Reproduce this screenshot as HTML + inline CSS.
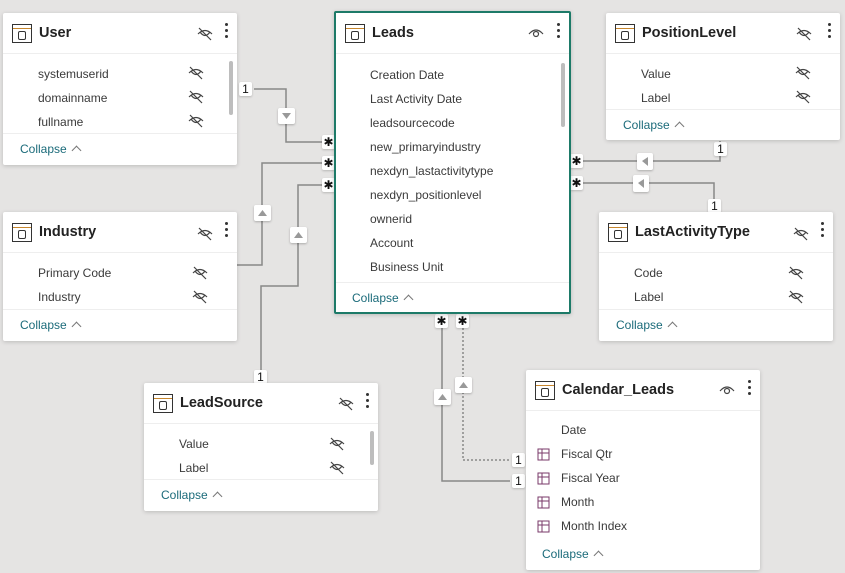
<!DOCTYPE html>
<html><head><meta charset="utf-8"><style>
body{margin:0;width:845px;height:573px;background:#e5e4e3;position:relative;overflow:hidden;font-family:"Segoe UI","Liberation Sans",sans-serif}
.c{position:absolute;background:#fff;box-shadow:0 1px 4px rgba(0,0,0,.18);border-radius:2px;box-sizing:border-box}
.c.sel{border:2px solid #1d7a68}
.h{position:absolute;left:0;right:0;top:0;height:40px;border-bottom:1px solid #eee}
.t{position:absolute;left:36px;top:12px;font-size:14.5px;font-weight:bold;color:#222}
.ti{position:absolute;left:9px;top:11px;width:20px;height:19px;border:1.5px solid #333;box-sizing:border-box}
.ti:before{content:"";position:absolute;left:0;right:0;top:3px;border-top:1.5px solid #c7862c}
.ti:after{content:"";position:absolute;left:5px;top:6px;width:6px;height:7px;border:1.3px solid #333;border-radius:2px}
.dots{position:absolute;right:8px;top:10px;width:4px}
.dots i{display:block;width:3px;height:3px;background:#333;border-radius:50%;margin:0 0 3px}
.f{position:absolute;font-size:12px;color:#3a3a3a}
.col{position:absolute;font-size:12px;color:#1b6b7a}
.col span{display:inline-block;width:6px;height:6px;border-left:1px solid #777;border-top:1px solid #777;transform:rotate(45deg);margin-left:6px;position:relative;top:1px}
.div{position:absolute;left:0;right:0;border-top:1px solid #eee}
.sb{position:absolute;width:4px;background:#bdbdbd;border-radius:2px}
.b{position:absolute;background:#fff;font-size:12px;color:#111;text-align:center;line-height:14px;width:13px;height:14px;border-radius:2px;box-shadow:0 1px 2px rgba(0,0,0,.2)}
</style></head><body>
<svg width="845" height="573" style="position:absolute;left:0;top:0">
<g stroke="#888" stroke-width="1.5" fill="none">
<polyline points="254,89 286,89 286,142 322,142"/>
<polyline points="237,265 262,265 262,163 322,163"/>
<polyline points="261,378 261,286 298,286 298,185 322,185"/>
<polyline points="720,141 720,161 583,161"/>
<polyline points="714,212 714,183 583,183"/>
<polyline points="442,328 442,481 510,481"/>
<polyline points="463,328 463,460 510,460" stroke-dasharray="2,2"/>
</g>
<g fill="#fff" style="filter:drop-shadow(0 1px 1px rgba(0,0,0,.25))">
<rect x="278" y="108" width="17" height="16" rx="2"/>
<rect x="254" y="205" width="17" height="16" rx="2"/>
<rect x="290" y="227" width="17" height="16" rx="2"/>
<rect x="637" y="153" width="16" height="17" rx="2"/>
<rect x="633" y="175" width="16" height="17" rx="2"/>
<rect x="434" y="389" width="17" height="16" rx="2"/>
<rect x="455" y="377" width="17" height="16" rx="2"/>
</g>
<g fill="#999">
<polygon points="282,113 291,113 286.5,119"/>
<polygon points="258,216 267,216 262.5,210"/>
<polygon points="294,238 303,238 298.5,232"/>
<polygon points="642,161 648,157 648,166"/>
<polygon points="638,183 644,179 644,188"/>
<polygon points="438,400 447,400 442.5,394"/>
<polygon points="459,388 468,388 463.5,382"/>
</g>
</svg>
<div class="b" style="left:239px;top:82px">1</div>
<div class="b" style="left:322px;top:135px">✱</div>
<div class="b" style="left:322px;top:156px">✱</div>
<div class="b" style="left:322px;top:178px">✱</div>
<div class="b" style="left:570px;top:154px">✱</div>
<div class="b" style="left:570px;top:176px">✱</div>
<div class="b" style="left:714px;top:142px">1</div>
<div class="b" style="left:708px;top:199px">1</div>
<div class="b" style="left:254px;top:370px">1</div>
<div class="b" style="left:435px;top:314px">✱</div>
<div class="b" style="left:456px;top:314px">✱</div>
<div class="b" style="left:512px;top:453px">1</div>
<div class="b" style="left:512px;top:474px">1</div>

<div class="c" style="left:3px;top:13px;width:234px;height:152px">
<div class="h"><div class="ti"></div><div class="t">User</div><div class="dots"><i></i><i></i><i></i></div></div>
<div class="f" style="left:35px;top:54px">systemuserid</div>
<div class="f" style="left:35px;top:78px">domainname</div>
<div class="f" style="left:35px;top:102px">fullname</div>
<div class="sb" style="left:226px;top:48px;height:54px"></div>
<div class="div" style="top:120px"></div>
<div class="col" style="left:17px;top:129px">Collapse<span></span></div>
</div>
<div class="c sel" style="left:334px;top:11px;width:237px;height:303px">
<div class="h"><div class="ti"></div><div class="t">Leads</div><div class="dots"><i></i><i></i><i></i></div></div>
<div class="f" style="left:34px;top:55px">Creation Date</div>
<div class="f" style="left:34px;top:79px">Last Activity Date</div>
<div class="f" style="left:34px;top:103px">leadsourcecode</div>
<div class="f" style="left:34px;top:127px">new_primaryindustry</div>
<div class="f" style="left:34px;top:151px">nexdyn_lastactivitytype</div>
<div class="f" style="left:34px;top:175px">nexdyn_positionlevel</div>
<div class="f" style="left:34px;top:199px">ownerid</div>
<div class="f" style="left:34px;top:223px">Account</div>
<div class="f" style="left:34px;top:247px">Business Unit</div>
<div class="sb" style="left:225px;top:50px;height:64px"></div>
<div class="div" style="top:269px"></div>
<div class="col" style="left:16px;top:278px">Collapse<span></span></div>
</div>
<div class="c" style="left:606px;top:13px;width:234px;height:127px">
<div class="h"><div class="ti"></div><div class="t">PositionLevel</div><div class="dots"><i></i><i></i><i></i></div></div>
<div class="f" style="left:35px;top:54px">Value</div>
<div class="f" style="left:35px;top:78px">Label</div>
<div class="div" style="top:96px"></div>
<div class="col" style="left:17px;top:105px">Collapse<span></span></div>
</div>
<div class="c" style="left:3px;top:212px;width:234px;height:129px">
<div class="h"><div class="ti"></div><div class="t">Industry</div><div class="dots"><i></i><i></i><i></i></div></div>
<div class="f" style="left:35px;top:54px">Primary Code</div>
<div class="f" style="left:35px;top:78px">Industry</div>
<div class="div" style="top:97px"></div>
<div class="col" style="left:17px;top:106px">Collapse<span></span></div>
</div>
<div class="c" style="left:599px;top:212px;width:234px;height:129px">
<div class="h"><div class="ti"></div><div class="t">LastActivityType</div><div class="dots"><i></i><i></i><i></i></div></div>
<div class="f" style="left:35px;top:54px">Code</div>
<div class="f" style="left:35px;top:78px">Label</div>
<div class="div" style="top:97px"></div>
<div class="col" style="left:17px;top:106px">Collapse<span></span></div>
</div>
<div class="c" style="left:144px;top:383px;width:234px;height:128px">
<div class="h"><div class="ti"></div><div class="t">LeadSource</div><div class="dots"><i></i><i></i><i></i></div></div>
<div class="f" style="left:35px;top:54px">Value</div>
<div class="f" style="left:35px;top:78px">Label</div>
<div class="sb" style="left:226px;top:48px;height:34px"></div>
<div class="div" style="top:96px"></div>
<div class="col" style="left:17px;top:105px">Collapse<span></span></div>
</div>
<div class="c" style="left:526px;top:370px;width:234px;height:200px">
<div class="h"><div class="ti"></div><div class="t">Calendar_Leads</div><div class="dots"><i></i><i></i><i></i></div></div>
<div class="f" style="left:35px;top:53px">Date</div>
<div class="f" style="left:35px;top:77px">Fiscal Qtr</div>
<div class="f" style="left:35px;top:101px">Fiscal Year</div>
<div class="f" style="left:35px;top:125px">Month</div>
<div class="f" style="left:35px;top:149px">Month Index</div>
<div class="col" style="left:16px;top:177px">Collapse<span></span></div>
</div>
<svg width="845" height="573" style="position:absolute;left:0;top:0;pointer-events:none">
<defs><g id="es"><path d="M1 7Q8 0 15 7M3 5Q8 12 13 5" stroke="#444" fill="none" stroke-width="1.2"/><line x1="2" y1="1" x2="14" y2="13" stroke="#444" stroke-width="1.2"/></g>
<g id="ey"><path d="M1 8Q8 0 15 8" stroke="#444" fill="none" stroke-width="1.2"/><circle cx="8" cy="8" r="2.5" stroke="#444" fill="none" stroke-width="1.2"/></g>
<g id="tb"><rect x="0" y="0" width="11" height="11" fill="none" stroke="#7a3a6a" stroke-width="1"/><line x1="0" y1="4" x2="11" y2="4" stroke="#7a3a6a"/><line x1="4" y1="0" x2="4" y2="11" stroke="#7a3a6a"/></g></defs>
<use href="#es" x="197" y="27"/>
<use href="#es" x="188" y="66"/><use href="#es" x="188" y="90"/><use href="#es" x="188" y="114"/>
<use href="#es" x="796" y="27"/><use href="#es" x="795" y="66"/><use href="#es" x="795" y="90"/>
<use href="#es" x="197" y="227"/><use href="#es" x="192" y="266"/><use href="#es" x="192" y="290"/>
<use href="#es" x="793" y="227"/><use href="#es" x="788" y="266"/><use href="#es" x="788" y="290"/>
<use href="#es" x="338" y="397"/><use href="#es" x="329" y="437"/><use href="#es" x="329" y="461"/>
<use href="#ey" x="528" y="26"/><use href="#ey" x="719" y="383"/>
<use href="#tb" x="538" y="449"/><use href="#tb" x="538" y="473"/><use href="#tb" x="538" y="497"/><use href="#tb" x="538" y="521"/>
</svg>
</body></html>
